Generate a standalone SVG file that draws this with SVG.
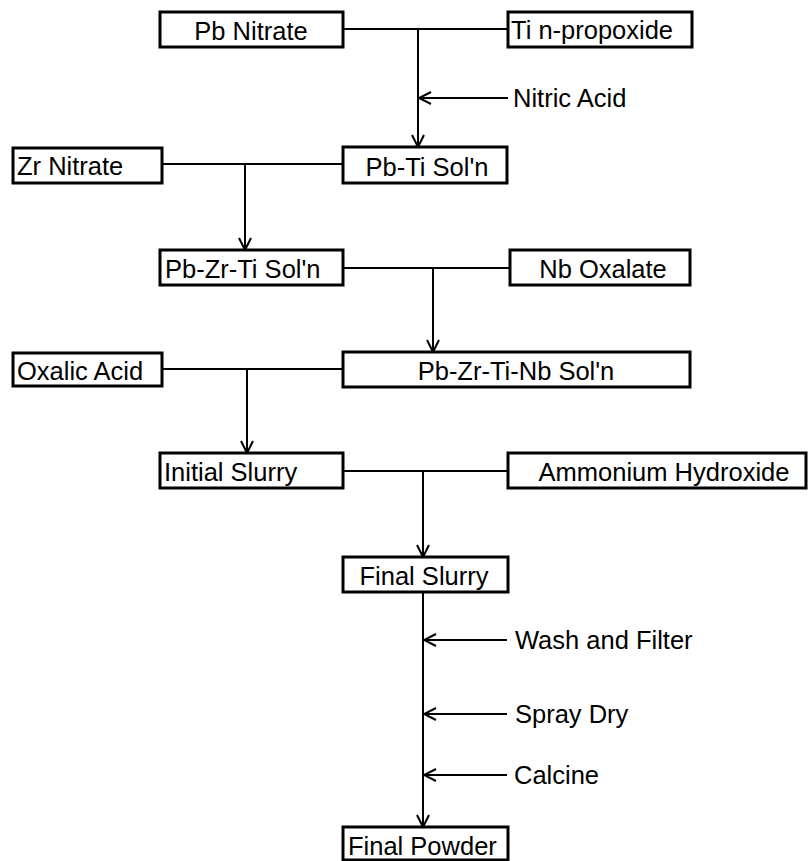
<svg xmlns="http://www.w3.org/2000/svg" width="809" height="861" viewBox="0 0 809 861">
<style>
.box{fill:#fff;stroke:#000;stroke-width:3}
.t{font-family:"Liberation Sans",Arial,sans-serif;font-size:25.5px;fill:#000}
.c{text-anchor:middle}
.ln{fill:none;stroke:#000;stroke-width:2}
</style>
<defs>
<marker id="ah" viewBox="0 0 14 14" refX="13" refY="7" markerWidth="14" markerHeight="14" markerUnits="userSpaceOnUse" orient="auto">
<path d="M1,1 L13,7 L1,13" fill="none" stroke="#000" stroke-width="2"/>
</marker>
</defs>
<rect width="809" height="861" fill="#fff"/>
<g id="connectors">
<path class="ln" d="M343,29 H508"/>
<path class="ln" d="M418,29 V147" marker-end="url(#ah)"/>
<path class="ln" d="M508,98 H419" marker-end="url(#ah)"/>
<path class="ln" d="M162,164 H343"/>
<path class="ln" d="M245,164 V250" marker-end="url(#ah)"/>
<path class="ln" d="M343,268 H510"/>
<path class="ln" d="M433,268 V352" marker-end="url(#ah)"/>
<path class="ln" d="M162,369 H343"/>
<path class="ln" d="M247,369 V453" marker-end="url(#ah)"/>
<path class="ln" d="M343,471 H508"/>
<path class="ln" d="M423,471 V557" marker-end="url(#ah)"/>
<path class="ln" d="M423,592 V827" marker-end="url(#ah)"/>
<path class="ln" d="M507,640 H424" marker-end="url(#ah)"/>
<path class="ln" d="M507,714 H424" marker-end="url(#ah)"/>
<path class="ln" d="M507,775 H424" marker-end="url(#ah)"/>
</g>
<g id="pb-nitrate"><rect class="box" x="160" y="12" width="183" height="35"/><text class="t c" x="251" y="40">Pb Nitrate</text></g>
<g id="ti-npropoxide"><rect class="box" x="508" y="12" width="184" height="35"/><text class="t" x="511" y="39">Ti n-propoxide</text></g>
<g id="nitric-acid"><text class="t" x="513" y="107">Nitric Acid</text></g>
<g id="zr-nitrate"><rect class="box" x="13" y="148" width="149" height="35"/><text class="t" x="17" y="175">Zr Nitrate</text></g>
<g id="pb-ti-soln"><rect class="box" x="343" y="147" width="164" height="36"/><text class="t c" x="427" y="176">Pb-Ti Sol'n</text></g>
<g id="pb-zr-ti-soln"><rect class="box" x="160" y="250" width="183" height="35"/><text class="t" x="165" y="278">Pb-Zr-Ti Sol'n</text></g>
<g id="nb-oxalate"><rect class="box" x="510" y="250" width="180" height="35"/><text class="t c" x="603" y="278">Nb Oxalate</text></g>
<g id="oxalic-acid"><rect class="box" x="13" y="353" width="149" height="33"/><text class="t" x="17" y="380">Oxalic Acid</text></g>
<g id="pb-zr-ti-nb-soln"><rect class="box" x="343" y="352" width="347" height="35"/><text class="t c" x="516" y="380">Pb-Zr-Ti-Nb Sol'n</text></g>
<g id="initial-slurry"><rect class="box" x="160" y="453" width="183" height="35"/><text class="t" x="164" y="481">Initial Slurry</text></g>
<g id="ammonium-hydroxide"><rect class="box" x="508" y="453" width="298" height="35"/><text class="t c" x="664" y="481">Ammonium Hydroxide</text></g>
<g id="final-slurry"><rect class="box" x="343" y="557" width="165" height="35"/><text class="t c" x="424" y="585">Final Slurry</text></g>
<g id="wash-filter"><text class="t" x="515" y="649">Wash and Filter</text></g>
<g id="spray-dry"><text class="t" x="515" y="723">Spray Dry</text></g>
<g id="calcine"><text class="t" x="514" y="784">Calcine</text></g>
<g id="final-powder"><rect class="box" x="343" y="827" width="165" height="33"/><text class="t" x="348" y="855">Final Powder</text></g>
</svg>
